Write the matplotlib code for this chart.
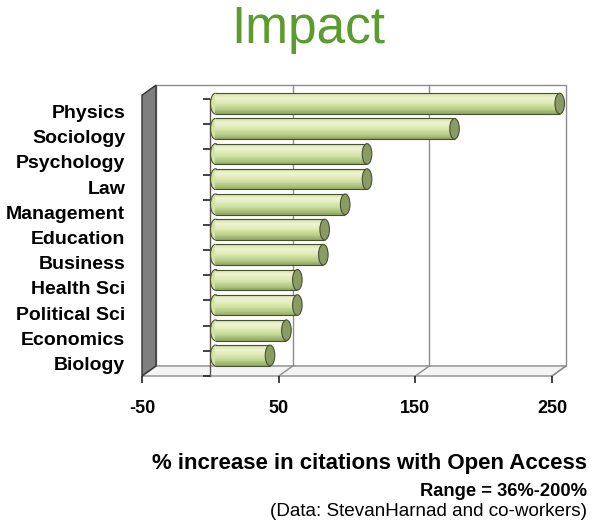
import matplotlib
matplotlib.use("Agg")
import matplotlib.pyplot as plt
import matplotlib.transforms as mtransforms
from matplotlib.patches import Polygon, Ellipse
from matplotlib.colors import LinearSegmentedColormap

plt.rcParams["font.family"] = ["Liberation Sans", "DejaVu Sans"]

# data
disciplines = ["Physics", "Sociology", "Psychology", "Law", "Management", "Education",
               "Business", "Health Sci", "Political Sci", "Economics", "Biology"]
pct_increase = [252, 175, 111, 111, 95, 80, 79, 60, 60, 52, 40]
x_ticks = [-50, 50, 150, 250]

fig = plt.figure(figsize=(6.0, 5.29), dpi=100)
W, H = 600, 529
ax = fig.add_axes([142 / W, (H - 376) / H, 410 / W, 277 / H])
ax.set_xlim(-50, 250)
ax.set_ylim(len(disciplines) - 0.5, -0.5)
for s in ax.spines.values():
    s.set_visible(False)


def shifted(base, dx_px, dy_px):
    # pixel offset for the fake 3d depth (dy up positive)
    return base + mtransforms.ScaledTranslation(dx_px / 100, dy_px / 100, fig.dpi_scale_trans)


xa = ax.get_xaxis_transform()
back = shifted(xa, 14, 10)
top = 1.014
grid_c = "#8c8c8c"

# back wall + gridlines
ax.add_patch(Polygon([(-50, 0), (250, 0), (250, top), (-50, top)], closed=True,
                     facecolor="white", edgecolor=grid_c, lw=1.0, transform=back,
                     zorder=0, clip_on=False))
for gx in x_ticks[1:-1]:
    ax.plot([gx, gx], [0, top], color=grid_c, lw=1.0, transform=back, zorder=0.5, clip_on=False)

# floor
front_pts = [(-50, 0), (250, 0)]
disp = [xa.transform(p) for p in front_pts]
back_disp = [back.transform(p) for p in front_pts[::-1]]
ax.add_patch(Polygon(disp + back_disp, closed=True, facecolor="#f4f4f4", edgecolor=grid_c,
                     lw=1.0, transform=None, zorder=1, clip_on=False))
for gx in x_ticks[1:]:
    p0 = xa.transform((gx, 0))
    p1 = back.transform((gx, 0))
    ax.plot([p0[0], p1[0]], [p0[1], p1[1]], color=grid_c, lw=1.0, transform=None,
            zorder=1.1, clip_on=False)

# left wall
lw_pts = [xa.transform((-50, 0)), xa.transform((-50, top)),
          back.transform((-50, top)), back.transform((-50, 0))]
ax.add_patch(Polygon(lw_pts, closed=True, facecolor="#7f7f7f", edgecolor="#333333",
                     lw=1.0, transform=None, zorder=1.2, clip_on=False))

# category axis at zero with boundary ticks
bounds = [i - 0.5 for i in range(len(disciplines) + 1)]
ax.plot([0, 0], [bounds[0], bounds[-1]], color="#555555", lw=1.0, zorder=2, clip_on=False)
ax.plot([0] * len(bounds), bounds, ls="none", marker=0, ms=5, mew=1.2, color="#222222",
        zorder=2, clip_on=False)

# cylinders
cyl = LinearSegmentedColormap.from_list(
    "cyl", ["#d2e1a6", "#eef4d2", "#e2edbd", "#cfe1a0", "#b5ca86", "#92a763"])
bar_tr = shifted(ax.transData, 5, 8)
h = 0.82
n = 24
cap_w = 7
edge = "#46522f"
for i, v in enumerate(pct_increase):
    ax.add_patch(Ellipse((0, i), cap_w, h, facecolor="#d3e3a8", edgecolor=edge, lw=0.8,
                         transform=bar_tr, zorder=3, clip_on=False))
    for k in range(n):
        ax.barh(i - h / 2 + k * h / n, v, height=h / n * 1.05, align="edge",
                color=cyl(k / (n - 1)), lw=0, transform=bar_tr, zorder=3.1, clip_on=False)
    ax.hlines([i - h / 2, i + h / 2], 0, v, colors=edge, lw=0.8, transform=bar_tr,
              zorder=3.2, clip_on=False)
    ax.add_patch(Ellipse((v, i), cap_w, h, facecolor="#8b9b64", edgecolor=edge, lw=0.8,
                         transform=bar_tr, zorder=3.3, clip_on=False))

ax.set_xticks(x_ticks)
ax.set_xticklabels([str(t) for t in x_ticks], fontsize=13, fontweight="bold")
ax.tick_params(axis="x", length=5, width=1.2, color="#222222", pad=12)
ax.set_yticks(range(len(disciplines)))
ax.set_yticklabels(disciplines, fontsize=14, fontweight="bold")
ax.tick_params(axis="y", length=0, pad=12)

fig.text(308 / W, 1 - 29 / H, "Impact", color="#5c9b2e", fontsize=37, ha="center", va="center")
fig.text(587 / W, 1 - 463 / H, "% increase in citations with Open Access", fontsize=16,
         fontweight="bold", ha="right", va="center")
fig.text(587 / W, 1 - 492 / H, "Range = 36%-200%", fontsize=13.2, fontweight="bold",
         ha="right", va="center")
fig.text(587 / W, 1 - 512 / H, "(Data: StevanHarnad and co-workers)", fontsize=13.6,
         ha="right", va="center")

fig.savefig("out.png", dpi=100)
